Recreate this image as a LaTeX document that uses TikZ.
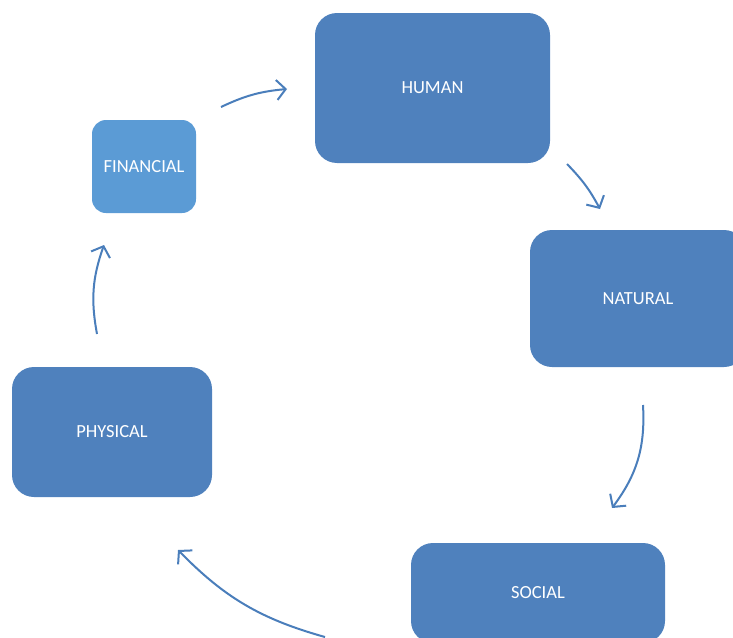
\documentclass[tikz,border=0pt]{standalone}
\usepackage{fontspec}
\setmainfont{Carlito}
\usetikzlibrary{arrows.meta}
\definecolor{boxblue}{HTML}{4F81BD}
\definecolor{lightblue}{HTML}{5B9BD5}
\definecolor{arrowblue}{HTML}{4A7EBB}
\tikzset{
  capbox/.style={rectangle, rounded corners=22pt, fill=boxblue, draw=none,
    text=white, font=\fontsize{18.5}{22}\selectfont, inner sep=0pt},
  arr/.style={-{Straight Barb[length=9pt,width=20pt]}, line width=2pt, draw=arrowblue}
}
\begin{document}
\begin{tikzpicture}[x=1pt,y=-1pt]
\useasboundingbox (0,0) rectangle (733,637);
\node[capbox, minimum width=235pt, minimum height=150pt] (human) at (432.5,88) {HUMAN};
\node[capbox, fill=lightblue, rounded corners=14pt, minimum width=104pt, minimum height=93pt] (financial) at (144,166.5) {FINANCIAL};
\node[capbox, minimum width=216pt, minimum height=137pt] (natural) at (638,298.5) {NATURAL};
\node[capbox, minimum width=200pt, minimum height=130pt] (physical) at (112,432) {PHYSICAL};
\node[capbox, minimum width=254pt, minimum height=100pt] (social) at (538,593) {SOCIAL};

\coordinate (a1) at (221,107);
\coordinate (b1) at (287,89);
\coordinate (a2) at (567,164);
\coordinate (b2) at (600,209);
\coordinate (a3) at (643,405);
\coordinate (b3) at (612,508);
\coordinate (a4) at (325,637);
\coordinate (b4) at (178,550);
\coordinate (a5) at (97,334);
\coordinate (b5) at (104,245);

\draw[arr] (a1) to[bend left=10] (b1);
\draw[arr] (a2) to[bend left=8] (b2);
\draw[arr] (a3) to[bend left=20] (b3);
\draw[arr] (a4) to[bend left=15] (b4);
\draw[arr] (a5) to[bend left=15] (b5);
\end{tikzpicture}
\end{document}
